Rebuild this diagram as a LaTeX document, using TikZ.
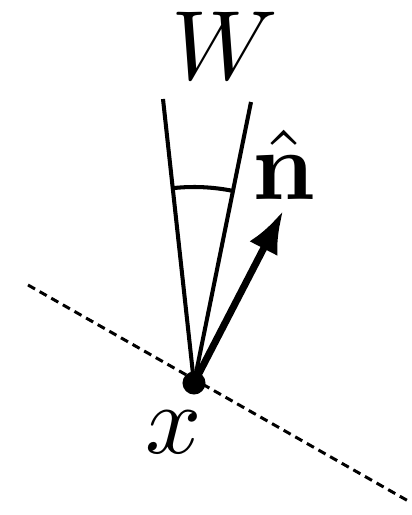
\documentclass[tikz,border=0pt]{standalone}
\usepackage{amsmath}
\usepackage{tikz}
\usetikzlibrary{arrows.meta}

\begin{document}
\begin{tikzpicture}[x=0.01cm, y=-0.01cm, >=Latex]
    \tikzset{
        lbl/.style={inner sep=0pt, scale=2.8},
        dot/.style={circle, fill=black, inner sep=0pt, minimum size=0.23cm},
        wire/.style={line width=1.15pt},
        normal/.style={->, line width=2pt},
        surface/.style={line width=0.85pt, dash pattern=on 2.3pt off 1.5pt}
    }
    \useasboundingbox (0,0) rectangle (411,515);
    % the point and the surface through it
    \node[dot] (x) at (194,383) {};
    \coordinate (sl) at (28,285);
    \coordinate (sr) at (410,502);
    \draw[surface] (sl) -- (sr);
    % the cone W (y runs downwards, so angles are negative)
    \coordinate (wl) at (163,99);
    \coordinate (wr) at (251,102);
    \draw[wire] (x.center) -- (wl);
    \draw[wire] (x.center) -- (wr);
    \draw[wire] (x.center) ++(-96.2:196) arc[start angle=-96.2, end angle=-78.5, radius=196];
    % normal
    \coordinate (n) at (283,211);
    \draw[normal] (x.center) -- (n);
    % labels
    \node[lbl] (W) at (225,46) {$W$};
    \node[lbl] (nhat) at (284,165) {$\hat{\mathbf{n}}$};
    \node[lbl] (xl) at (174,432) {$x$};
\end{tikzpicture}
\end{document}
